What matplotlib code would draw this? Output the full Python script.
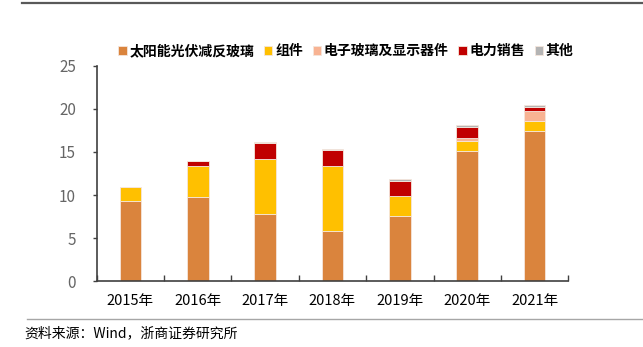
import matplotlib
matplotlib.use('Agg')
from matplotlib import pyplot as plt
import numpy as np

plt.rcParams['font.family'] = ['Liberation Sans Narrow', 'Noto Sans CJK SC', 'DejaVu Sans']

years = ['2015年', '2016年', '2017年', '2018年', '2019年', '2020年', '2021年']
series_names = ['太阳能光伏减反玻璃', '组件', '电子玻璃及显示器件', '电力销售', '其他']
solar = [9.34, 9.80, 7.76, 5.86, 7.53, 15.13, 17.45]
module = [1.55, 3.56, 6.41, 7.50, 2.35, 1.16, 1.12]
e_glass = [0.0, 0.0, 0.0, 0.0, 0.0, 0.28, 1.13]
power = [0.03, 0.54, 1.89, 1.85, 1.78, 1.31, 0.50]
other = [0.0, 0.08, 0.10, 0.10, 0.19, 0.23, 0.19]
colors = ['#DA843D', '#FFC000', '#F8B393', '#C00000', '#B4B4B4']

fig = plt.figure(figsize=(6.43, 3.47), dpi=100)
ax = fig.add_axes([0.1504, 0.1893, 0.7334, 0.6216])

x = np.arange(len(years))
bottom = np.zeros(len(years))
for name, vals, c in zip(series_names, [solar, module, e_glass, power, other], colors):
    vals = np.array(vals)
    ax.bar(x, vals, width=0.32, bottom=bottom, color=c, edgecolor='#F5E6DC',
           linewidth=0.6, label=name)
    bottom += vals

ax.set_xlim(-0.5, 6.5)
ax.set_ylim(0, 25)
ax.set_yticks([0, 5, 10, 15, 20, 25])
ax.set_xticks(x)
ax.set_xticklabels(years)
ax.set_xticks(np.arange(-0.5, 7, 1), minor=True)
ax.tick_params(axis='x', which='major', length=0, pad=9, labelsize=10.5, labelcolor='black')
ax.tick_params(axis='x', which='minor', direction='in', length=4, color='#404040', width=1)
ax.tick_params(axis='y', direction='out', length=3, color='#404040', width=1,
               labelsize=11, labelcolor='#666666', pad=12)

for s in ['top', 'right']:
    ax.spines[s].set_visible(False)
for s in ['left', 'bottom']:
    ax.spines[s].set_color('#404040')
    ax.spines[s].set_linewidth(1.2)

fig.legend(loc='center', bbox_to_anchor=(0.538, 0.853), ncol=5, frameon=False,
           handlelength=0.6, handleheight=0.6, handletextpad=0.2, columnspacing=0.7,
           prop={'family': ['Noto Sans CJK SC', 'DejaVu Sans'], 'size': 10, 'weight': 'bold'})

# top border and separator lines
fig.add_artist(plt.Line2D([22/643, 1], [1 - 2.5/347, 1 - 2.5/347], color='#595959', lw=1.6))
fig.add_artist(plt.Line2D([27/643, 1], [1 - 319/347, 1 - 319/347], color='#A6A6A6', lw=1.0))

fig.text(24/643, 1 - 333/347, '资料来源：Wind，浙商证券研究所', va='center', ha='left',
         fontsize=10, family=['Noto Sans CJK SC', 'DejaVu Sans'], color='black')

plt.savefig('out.png', dpi=100)
